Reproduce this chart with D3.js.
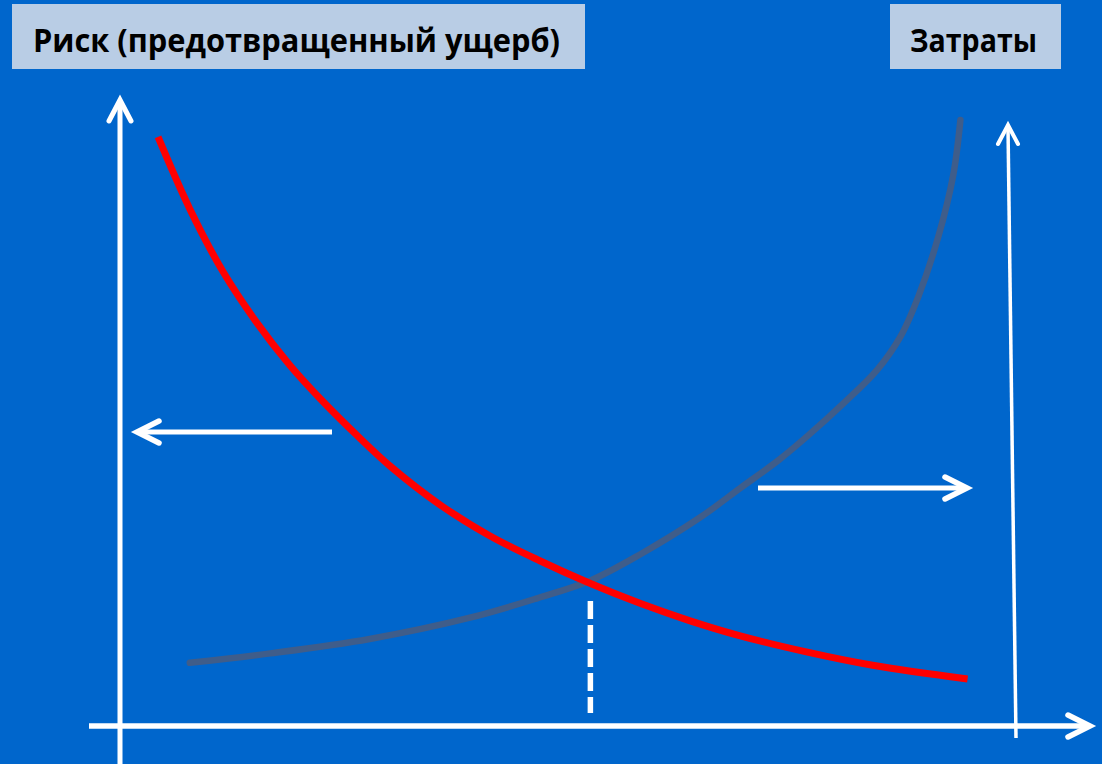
<!DOCTYPE html>
<html>
<head>
<meta charset="utf-8">
<script src="https://cdn.jsdelivr.net/npm/d3@7"></script>
<style>
  html, body { margin: 0; padding: 0; background: #0066CC; }
  svg { display: block; }
</style>
</head>
<body>
<svg id="chart" width="1102" height="764"></svg>
<script>
// ---- Data ----
const riskLabel = "Риск (предотвращенный ущерб)";
const costLabel = "Затраты";

// Risk (prevented damage) curve: x = effort level, y = value (0..100 relative)
const riskX = [4.25, 7.8, 11.5, 15.3, 19.0, 22.7, 26.5, 30.2, 35.8, 41.3, 46.9, 52.5, 58.1, 63.7, 69.3, 76.8, 84.1, 94.7];
const riskY = [94.1, 82.6, 72.6, 64.4, 57.6, 51.8, 46.4, 41.5, 35.3, 30.4, 26.4, 22.8, 19.6, 16.8, 14.4, 11.8, 9.7, 7.5];

// Cost curve
const costX = [7.8, 16.8, 27.9, 39.1, 46.6, 52.5, 58.1, 64.8, 69.3, 73.7, 76.8, 80.8, 84.6, 87.2, 89.2, 91.4, 93.1, 93.9];
const costY = [10.1, 11.6, 13.9, 17.3, 20.4, 23.2, 27.4, 33.3, 38.0, 42.6, 46.3, 51.5, 56.9, 62.2, 68.6, 78.0, 88.0, 96.8];

// Optimum (intersection) position on x
const optimumX = 52.5;

// ---- Layout ----
const svg = d3.select("#chart");
const W = 1102, H = 764;

const x = d3.scaleLinear().domain([0, 100]).range([120, 1015]);
const y = d3.scaleLinear().domain([0, 100]).range([726, 100]);

svg.append("rect").attr("width", W).attr("height", H).attr("fill", "#0066CC");

// ---- Labels ----
function labelBox(x0, x1, text, tx, tw) {
  svg.append("rect").attr("x", x0).attr("y", 4).attr("width", x1 - x0).attr("height", 65)
    .attr("fill", "#B9CDE5");
  svg.append("text").attr("x", tx).attr("y", 52)
    .attr("font-family", "'Open Sans', 'DejaVu Sans', sans-serif")
    .attr("font-weight", "bold").attr("font-size", 33).attr("fill", "#000")
    .attr("textLength", tw).attr("lengthAdjust", "spacingAndGlyphs")
    .text(text);
}
labelBox(12, 585, riskLabel, 33, 527);
labelBox(890, 1061, costLabel, 910, 127);

const white = "#FFFFFF";

// ---- Axes ----
// left vertical axis
svg.append("line").attr("x1", x(0)).attr("x2", x(0)).attr("y1", y(100) + 2).attr("y2", H)
  .attr("stroke", white).attr("stroke-width", 5);
svg.append("path")
  .attr("d", `M${x(0) - 11},${y(100) + 21} L${x(0)},${y(100)} L${x(0) + 11},${y(100) + 21}`)
  .attr("fill", "none").attr("stroke", white).attr("stroke-width", 5)
  .attr("stroke-linecap", "round").attr("stroke-linejoin", "miter");

// right vertical axis (costs)
const rTopX = x(100) - 7, rTopY = 125;
svg.append("line").attr("x1", rTopX).attr("y1", rTopY + 2).attr("x2", x(100) + 1).attr("y2", 738)
  .attr("stroke", white).attr("stroke-width", 3.5);
svg.append("path")
  .attr("d", `M${rTopX - 10},${rTopY + 19} L${rTopX},${rTopY} L${rTopX + 10},${rTopY + 19}`)
  .attr("fill", "none").attr("stroke", white).attr("stroke-width", 4)
  .attr("stroke-linecap", "round");

// horizontal axis
svg.append("line").attr("x1", 89).attr("x2", 1088).attr("y1", y(0)).attr("y2", y(0))
  .attr("stroke", white).attr("stroke-width", 5.5);
svg.append("path")
  .attr("d", `M1068,${y(0) - 11} L1090,${y(0)} L1068,${y(0) + 11}`)
  .attr("fill", "none").attr("stroke", white).attr("stroke-width", 5.5)
  .attr("stroke-linecap", "round");

// ---- Direction arrows ----
function hArrow(xFrom, xTo, yy) {
  const dir = Math.sign(xTo - xFrom);
  svg.append("line").attr("x1", xFrom).attr("x2", xTo - dir * 2).attr("y1", yy).attr("y2", yy)
    .attr("stroke", white).attr("stroke-width", 5);
  svg.append("path")
    .attr("d", `M${xTo - dir * 22},${yy - 11} L${xTo},${yy} L${xTo - dir * 22},${yy + 11}`)
    .attr("fill", "none").attr("stroke", white).attr("stroke-width", 5.5)
    .attr("stroke-linecap", "round");
}
hArrow(332, 137, 432);
hArrow(758, 967, 488);

// ---- Dashed optimum line ----
svg.append("line").attr("x1", x(optimumX) + 0.5).attr("x2", x(optimumX) + 0.5)
  .attr("y1", 601).attr("y2", 713)
  .attr("stroke", white).attr("stroke-width", 5.5).attr("stroke-dasharray", "18,6");

// ---- Curves ----
const line = d3.line().x(d => x(d[0])).y(d => y(d[1])).curve(d3.curveCatmullRom.alpha(0.5));

svg.append("path").datum(costX.map((v, i) => [v, costY[i]]))
  .attr("d", line).attr("fill", "none").attr("stroke", "#3F5D8A")
  .attr("stroke-width", 6.5).attr("stroke-linecap", "round");

svg.append("path").datum(riskX.map((v, i) => [v, riskY[i]]))
  .attr("d", line).attr("fill", "none").attr("stroke", "#FF0000")
  .attr("stroke-width", 7).attr("stroke-linecap", "butt");
</script>
</body>
</html>
